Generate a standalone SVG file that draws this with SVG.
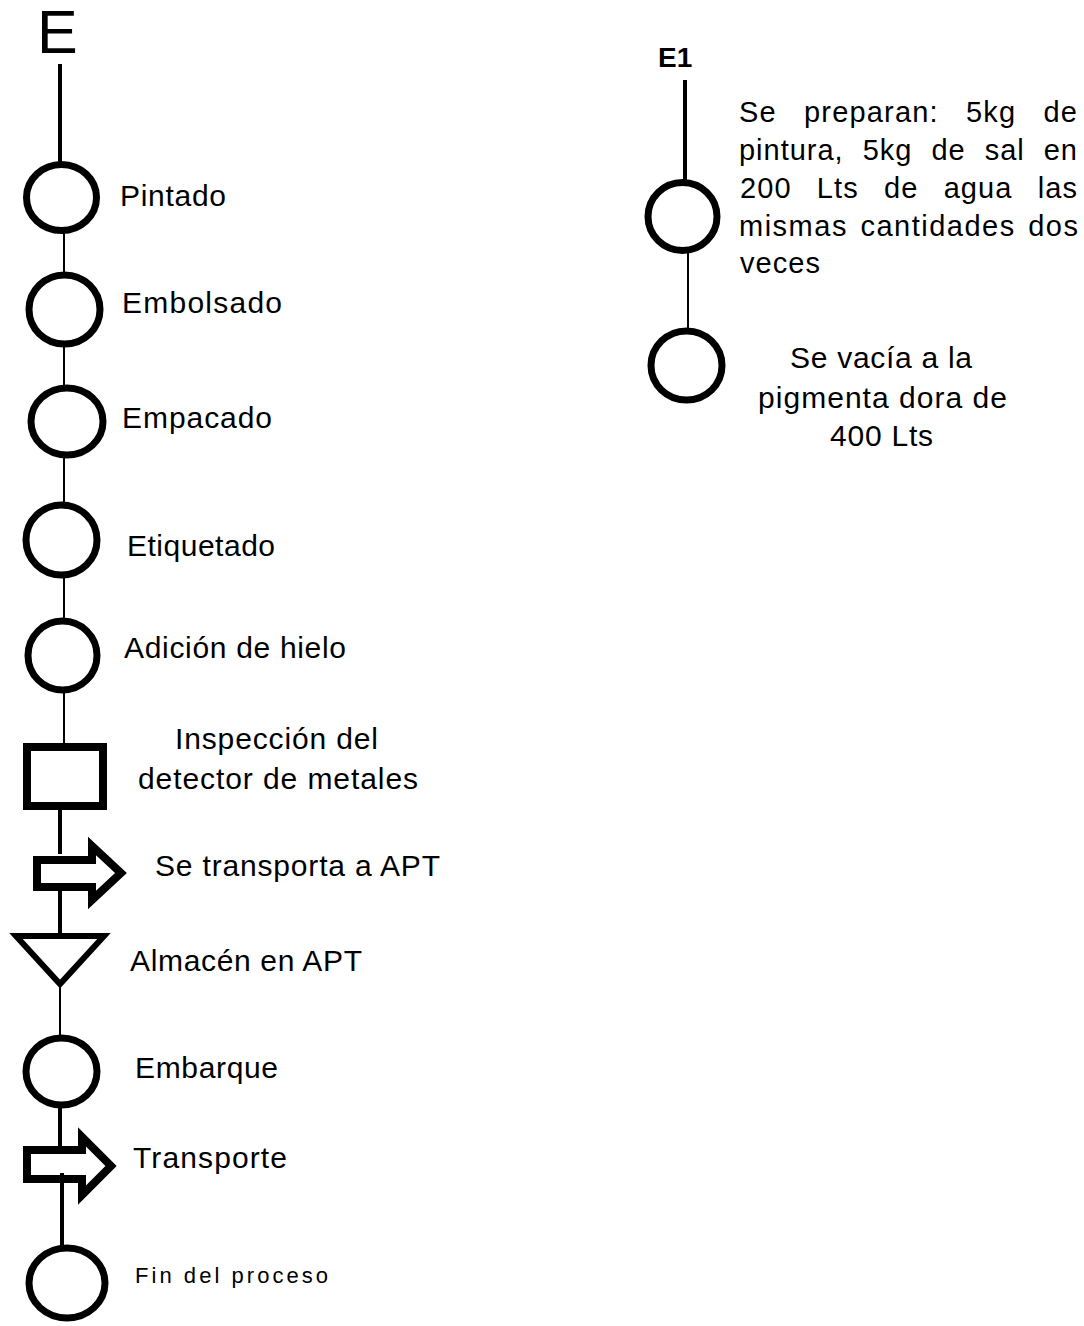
<svg xmlns="http://www.w3.org/2000/svg" width="1084" height="1326" viewBox="0 0 1084 1326">
  <style>
    text { font-family: "Liberation Sans", Arial, sans-serif; fill: #000; }
    .lbl { font-size: 30px; }
    .par { font-size: 29px; }
    .small { font-size: 22px; }
    .op { fill: #fff; stroke: #000; stroke-width: 7; }
    .box { fill: #fff; stroke: #000; stroke-width: 8; }
    .mv { fill: #fff; stroke: #000; stroke-width: 8; stroke-linejoin: miter; }
    .st { fill: #fff; stroke: #000; stroke-width: 6; stroke-linejoin: miter; }
    .thick { stroke: #000; stroke-width: 4; fill: none; }
    .thin { stroke: #000; stroke-width: 2; fill: none; }
  </style>
  <rect width="1084" height="1326" fill="#fff"/>

  <!-- Main line: E -->
  <g id="start-e">
    <text x="37" y="53" font-size="61">E</text>
  </g>
  <g id="pintado">
    <ellipse class="op" cx="61.5" cy="197.5" rx="35" ry="33"/>
    <text class="lbl" x="120" y="206" textLength="106" lengthAdjust="spacing">Pintado</text>
  </g>
  <g id="embolsado">
    <ellipse class="op" cx="64.5" cy="309.5" rx="35.5" ry="34.5"/>
    <text class="lbl" x="122" y="313" textLength="160" lengthAdjust="spacing">Embolsado</text>
  </g>
  <g id="empacado">
    <ellipse class="op" cx="67" cy="421.5" rx="36" ry="33.5"/>
    <text class="lbl" x="122" y="428" textLength="150" lengthAdjust="spacing">Empacado</text>
  </g>
  <g id="etiquetado">
    <ellipse class="op" cx="61.5" cy="540" rx="35.5" ry="35"/>
    <text class="lbl" x="127" y="556" textLength="148" lengthAdjust="spacing">Etiquetado</text>
  </g>
  <g id="adicion-hielo">
    <ellipse class="op" cx="62.5" cy="655.5" rx="34.5" ry="34.5"/>
    <text class="lbl" x="124" y="658" textLength="222" lengthAdjust="spacing">Adición de hielo</text>
  </g>
  <g id="inspeccion">
    <rect class="box" x="27" y="747" width="76" height="59"/>
    <text class="lbl" x="175" y="749" textLength="203" lengthAdjust="spacing">Inspección del</text>
    <text class="lbl" x="138" y="789" textLength="280" lengthAdjust="spacing">detector de metales</text>
  </g>
  <g id="transporte-apt">
    <polygon class="mv" points="37,860 92,860 92,846 121,873 92,900 92,887 37,887"/>
    <text class="lbl" x="155" y="876" textLength="285" lengthAdjust="spacing">Se transporta a APT</text>
  </g>
  <g id="almacen-apt">
    <polygon class="st" points="16,936 104,936 60,984"/>
    <text class="lbl" x="130" y="971" textLength="232" lengthAdjust="spacing">Almacén en APT</text>
  </g>
  <g id="embarque">
    <ellipse class="op" cx="61.5" cy="1071.5" rx="35.5" ry="33.5"/>
    <text class="lbl" x="135" y="1078" textLength="143" lengthAdjust="spacing">Embarque</text>
  </g>
  <g id="transporte">
    <polygon class="mv" points="27,1150 82,1150 82,1137 111,1166 82,1195 82,1179 27,1179"/>
    <text class="lbl" x="133" y="1168" textLength="154" lengthAdjust="spacing">Transporte</text>
  </g>
  <g id="fin">
    <ellipse class="op" cx="67" cy="1283" rx="38" ry="35"/>
    <text class="small" x="135" y="1283" textLength="193" lengthAdjust="spacing">Fin del proceso</text>
  </g>

  <!-- Side line: E1 -->
  <g id="start-e1">
    <text x="658" y="67" font-size="28" font-weight="bold">E1</text>
  </g>
  <g id="preparacion">
    <ellipse class="op" cx="682.5" cy="216.5" rx="34.5" ry="34"/>
    <text class="par" x="739" y="122" textLength="338" lengthAdjust="spacing" style="word-spacing:18px">Se preparan: 5kg de</text>
    <text class="par" x="739" y="160" textLength="338" lengthAdjust="spacing" style="word-spacing:10px">pintura, 5kg de sal en</text>
    <text class="par" x="740" y="198" textLength="337" lengthAdjust="spacing" style="word-spacing:16px">200 Lts de agua las</text>
    <text class="par" x="739" y="236" textLength="339" lengthAdjust="spacing" style="word-spacing:3px">mismas cantidades dos</text>
    <text class="par" x="740" y="273" textLength="80" lengthAdjust="spacing">veces</text>
  </g>
  <g id="vaciado">
    <ellipse class="op" cx="686.5" cy="365.5" rx="35.5" ry="34.5"/>
    <text class="lbl" x="790" y="368" textLength="182" lengthAdjust="spacing">Se vacía a la</text>
    <text class="lbl" x="758" y="408" textLength="249" lengthAdjust="spacing">pigmenta dora de</text>
    <text class="lbl" x="830" y="446" textLength="103" lengthAdjust="spacing">400 Lts</text>
  </g>

  <!-- Connectors -->
  <g id="connectors">
    <line class="thick" x1="60" y1="64" x2="60" y2="165"/>
    <line class="thin" x1="64" y1="230" x2="64" y2="275"/>
    <line class="thin" x1="64" y1="344" x2="64" y2="388"/>
    <line class="thin" x1="64" y1="455" x2="64" y2="505"/>
    <line class="thin" x1="64" y1="575" x2="64" y2="621"/>
    <line class="thin" x1="64" y1="690" x2="64" y2="744"/>
    <line class="thick" x1="60" y1="810" x2="60" y2="854"/>
    <line class="thick" x1="60" y1="890" x2="60" y2="933"/>
    <line class="thin" x1="60" y1="987" x2="60" y2="1038"/>
    <line class="thick" x1="60" y1="1105" x2="60" y2="1147"/>
    <line class="thick" x1="62" y1="1173" x2="62" y2="1248"/>
    <line class="thick" x1="685" y1="80" x2="685" y2="183"/>
    <line class="thin" x1="688" y1="250" x2="688" y2="331"/>
  </g>
</svg>
